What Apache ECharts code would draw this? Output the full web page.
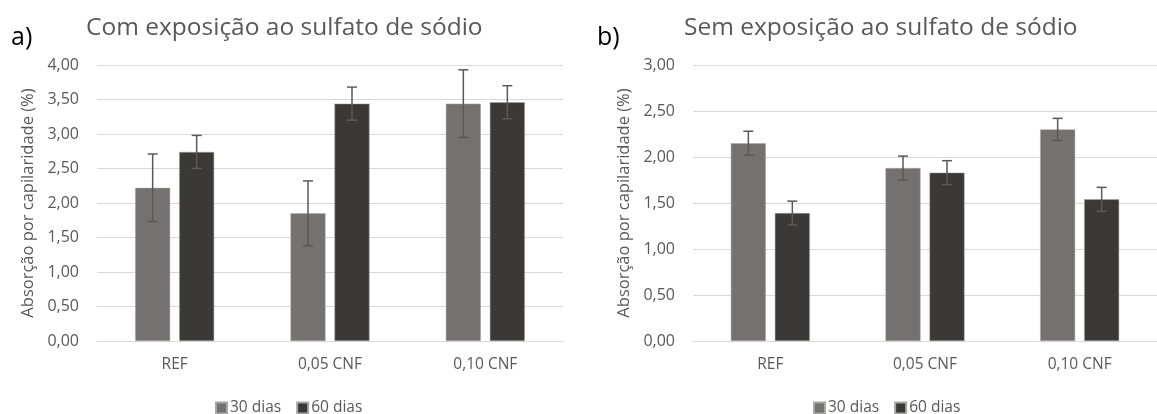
<!DOCTYPE html>
<html>
<head>
<meta charset="utf-8">
<script src="https://cdn.jsdelivr.net/npm/echarts@6/dist/echarts.min.js"></script>
<style>
html,body{margin:0;padding:0;background:#fff;}
#c{width:1157px;height:414px;}
</style>
</head>
<body>
<div id="c"></div>
<script>
const categories = ['REF', '0,05 CNF', '0,10 CNF'];
const seriesNames = ['30 dias', '60 dias'];
// a) Com exposição ao sulfato de sódio
const a30 = [2.22, 1.85, 3.44];
const a30err = [0.49, 0.47, 0.49];
const a60 = [2.74, 3.44, 3.46];
const a60err = [0.24, 0.24, 0.24];
// b) Sem exposição ao sulfato de sódio
const b30 = [2.15, 1.88, 2.30];
const b30err = [0.13, 0.13, 0.12];
const b60 = [1.39, 1.83, 1.54];
const b60err = [0.13, 0.13, 0.13];
const yTicksA = {min: 0, max: 4, interval: 0.5};
const yTicksB = {min: 0, max: 3, interval: 0.5};

const COL30 = '#767171', COL60 = '#3B3838', TXT = '#595959', GRID = '#D9D9D9';
const FONT = '"Open Sans", "Noto Sans", sans-serif';
const BARW = 35, GAP = 9;
const fmt = v => v.toFixed(2).replace('.', ',');

function errData(vals, errs) {
  return vals.map((v, i) => [i, v - errs[i], v + errs[i]]);
}
function errSeries(name, gi, vals, errs, side) {
  return {
    type: 'custom', name: name, xAxisIndex: gi, yAxisIndex: gi, z: 5,
    data: errData(vals, errs),
    renderItem: function (params, api) {
      const lo = api.coord([api.value(0), api.value(1)]);
      const hi = api.coord([api.value(0), api.value(2)]);
      const x = lo[0] + side * (BARW + GAP) / 2;
      const cap = 5;
      const style = {stroke: TXT, lineWidth: 1.5, fill: null};
      return {type: 'group', children: [
        {type: 'line', shape: {x1: x, y1: lo[1], x2: x, y2: hi[1]}, style},
        {type: 'line', shape: {x1: x - cap, y1: lo[1], x2: x + cap, y2: lo[1]}, style},
        {type: 'line', shape: {x1: x - cap, y1: hi[1], x2: x + cap, y2: hi[1]}, style}
      ]};
    }
  };
}
function xAx(gi) {
  return {type: 'category', gridIndex: gi, data: categories,
    axisLine: {show: true, lineStyle: {color: GRID, width: 1}},
    axisTick: {show: false},
    axisLabel: {color: TXT, fontSize: 15.5, fontFamily: FONT, margin: 16}};
}
function yAx(gi, t) {
  return {type: 'value', gridIndex: gi, min: t.min, max: t.max, interval: t.interval,
    name: 'Absorção por capilaridade (%)', nameLocation: 'middle', nameGap: 60, nameRotate: 90,
    nameTextStyle: {color: TXT, fontSize: 16.5, fontFamily: FONT},
    axisLine: {show: false}, axisTick: {show: false},
    splitLine: {lineStyle: {color: GRID, width: 1}},
    axisLabel: {color: TXT, fontSize: 16, fontFamily: FONT, margin: 18, formatter: fmt}};
}
function bar(name, gi, vals, color) {
  return {type: 'bar', name: name, xAxisIndex: gi, yAxisIndex: gi, data: vals,
    barWidth: BARW, barGap: (GAP / BARW * 100) + '%',
    itemStyle: {color: color, borderColor: '#A6A6A6', borderWidth: 0.5}};
}
const legendCommon = {
  data: seriesNames, itemWidth: 11, itemHeight: 11, itemGap: 15, icon: 'rect',
  textStyle: {color: TXT, fontSize: 15.5, fontFamily: FONT, padding: [0, 0, 0, -2]}
};

const chart = echarts.init(document.getElementById('c'), null, {renderer: 'canvas'});
chart.setOption({
  animation: false,
  backgroundColor: '#fff',
  title: [
    {text: 'a)', left: 6, top: 20, textStyle: {color: '#000', fontSize: 25, fontWeight: 'normal', fontFamily: FONT}},
    {text: 'Com exposição ao sulfato de sódio', left: 81, top: 11, textStyle: {color: TXT, fontSize: 24.5, fontWeight: 'normal', fontFamily: FONT}},
    {text: 'b)', left: 592, top: 20, textStyle: {color: '#000', fontSize: 25, fontWeight: 'normal', fontFamily: FONT}},
    {text: 'Sem exposição ao sulfato de sódio', left: 679, top: 11, textStyle: {color: TXT, fontSize: 24.5, fontWeight: 'normal', fontFamily: FONT}}
  ],
  legend: [
    Object.assign({left: 210, top: 395}, legendCommon),
    Object.assign({left: 808, top: 395}, legendCommon)
  ],
  grid: [
    {left: 97, top: 65, width: 466, height: 276},
    {left: 693, top: 65, width: 464, height: 276}
  ],
  xAxis: [xAx(0), xAx(1)],
  yAxis: [yAx(0, yTicksA), yAx(1, yTicksB)],
  series: [
    bar(seriesNames[0], 0, a30, COL30),
    bar(seriesNames[1], 0, a60, COL60),
    bar(seriesNames[0], 1, b30, COL30),
    bar(seriesNames[1], 1, b60, COL60),
    errSeries(seriesNames[0], 0, a30, a30err, -1),
    errSeries(seriesNames[1], 0, a60, a60err, 1),
    errSeries(seriesNames[0], 1, b30, b30err, -1),
    errSeries(seriesNames[1], 1, b60, b60err, 1)
  ]
});
</script>
</body>
</html>
